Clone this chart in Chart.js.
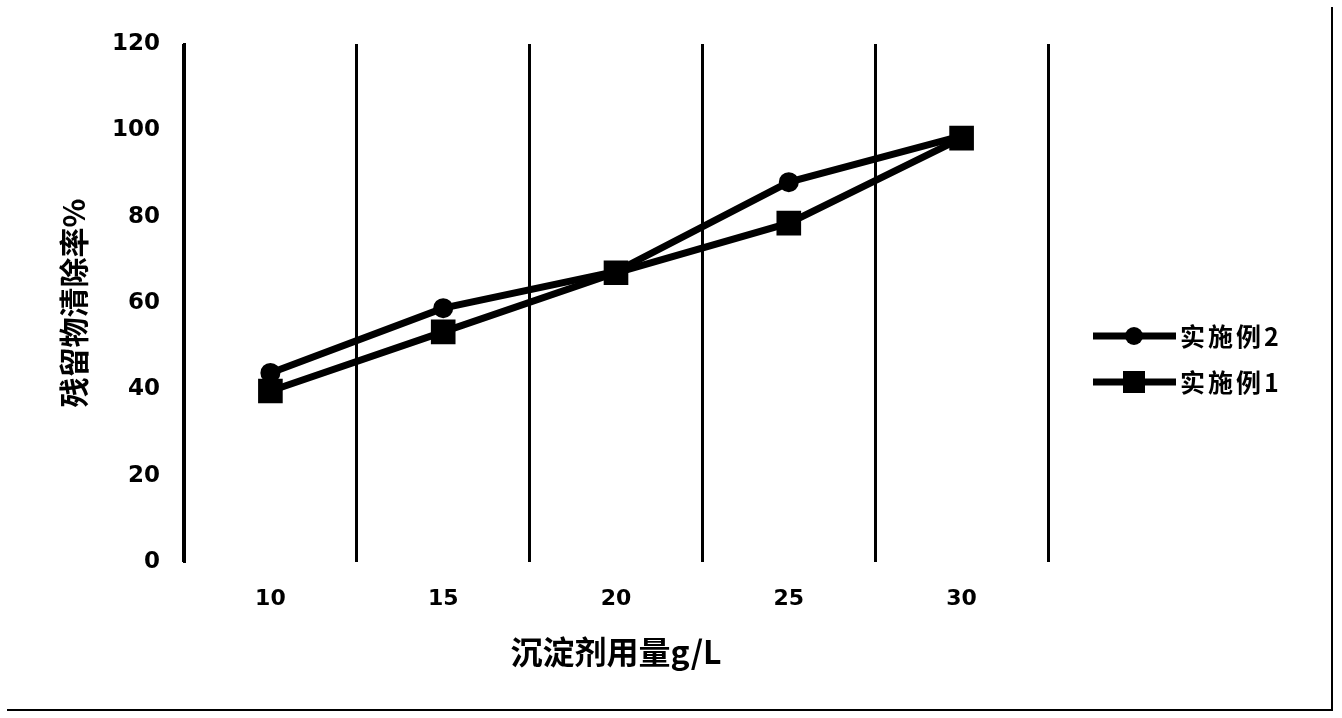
<!DOCTYPE html>
<html>
<head>
<meta charset="utf-8">
<script src="https://cdn.jsdelivr.net/npm/chart.js@4/dist/chart.umd.min.js"></script>
<style>
  html, body { margin: 0; padding: 0; background: #fff; }
  #wrap { position: relative; width: 1342px; height: 718px; }
</style>
</head>
<body>
<div id="wrap"><canvas id="chart" width="1342" height="718"></canvas></div>
<script>
// dosage categories (g/L)
const doses = ['10', '15', '20', '25', '30'];
// removal rate %
const example2 = [43.8, 58.8, 67.3, 88.0, 98.7];
const example1 = [39.6, 53.3, 67.0, 78.5, 98.2];
const seriesNames = ['实施例2', '实施例1'];
const yTicks = [0, 20, 40, 60, 80, 100, 120];

const cjk = '"Noto Sans CJK SC", "DejaVu Sans", sans-serif';

// legend drawn as line + marker, like the original
const legendPlugin = {
    id: 'lineLegend',
    afterDraw(chart) {
        const ctx = chart.ctx;
        const rows = [
            { ds: chart.data.datasets[0], y: 336 },
            { ds: chart.data.datasets[1], y: 382 }
        ];
        ctx.save();
        rows.forEach(r => {
            ctx.strokeStyle = '#000';
            ctx.lineWidth = 7;
            ctx.beginPath();
            ctx.moveTo(1093, r.y);
            ctx.lineTo(1176, r.y);
            ctx.stroke();
            ctx.fillStyle = '#000';
            if (r.ds.pointStyle === 'rect') {
                ctx.fillRect(1134 - 11, r.y - 11, 22, 22);
            } else {
                ctx.beginPath();
                ctx.arc(1134, r.y, 9, 0, Math.PI * 2);
                ctx.fill();
            }
            ctx.font = 'bold 25px ' + cjk;
            ctx.letterSpacing = '3px';
            ctx.textBaseline = 'middle';
            ctx.textAlign = 'left';
            ctx.fillText(r.ds.label, 1180, r.y);
        });
        // outer frame (right and bottom edges)
        ctx.letterSpacing = '0px';
        ctx.lineWidth = 2;
        ctx.beginPath();
        ctx.moveTo(7, 710);
        ctx.lineTo(1332, 710);
        ctx.lineTo(1332, 7);
        ctx.stroke();
        ctx.restore();
    }
};

new Chart(document.getElementById('chart'), {
    type: 'line',
    data: {
        labels: doses,
        datasets: [
            {
                label: seriesNames[0],
                data: example2,
                borderColor: '#000',
                backgroundColor: '#000',
                borderWidth: 7,
                pointStyle: 'circle',
                pointRadius: 9,
                pointBorderWidth: 2,
                order: 1
            },
            {
                label: seriesNames[1],
                data: example1,
                borderColor: '#000',
                backgroundColor: '#000',
                borderWidth: 7,
                pointStyle: 'rect',
                pointRadius: 16,
                pointBorderWidth: 2,
                order: 0
            }
        ]
    },
    options: {
        responsive: false,
        animation: false,
        layout: { padding: { left: 0, top: 44, right: 294, bottom: 0 } },
        plugins: {
            legend: { display: false },
            tooltip: { enabled: false }
        },
        scales: {
            x: {
                offset: true,
                grid: { display: true, offset: true, color: '#000', lineWidth: 3, drawTicks: false },
                border: { display: false },
                ticks: { color: '#000', padding: 24, font: { family: 'DejaVu Sans', size: 22, weight: 'bold' } },
                title: {
                    display: true,
                    text: '沉淀剂用量g/L',
                    color: '#000',
                    font: { family: cjk, size: 32, weight: 'bold' },
                    padding: { top: 0, bottom: 47 }
                },
                afterFit(scale) { scale.height = 156; }
            },
            y: {
                min: 0,
                max: 120,
                afterBuildTicks(scale) { scale.ticks = yTicks.map(v => ({ value: v })); },
                grid: { display: false, drawTicks: false },
                border: { display: true, color: '#000', width: 3 },
                ticks: { color: '#000', padding: 24, font: { family: 'DejaVu Sans', size: 23, weight: 'bold' } },
                title: {
                    display: true,
                    text: '残留物清除率%',
                    color: '#000',
                    font: { family: cjk, size: 30, weight: 'bold' },
                    padding: { top: 56, bottom: 0 }
                },
                afterFit(scale) { scale.width = 184; }
            }
        }
    },
    plugins: [legendPlugin]
});
</script>
</body>
</html>
